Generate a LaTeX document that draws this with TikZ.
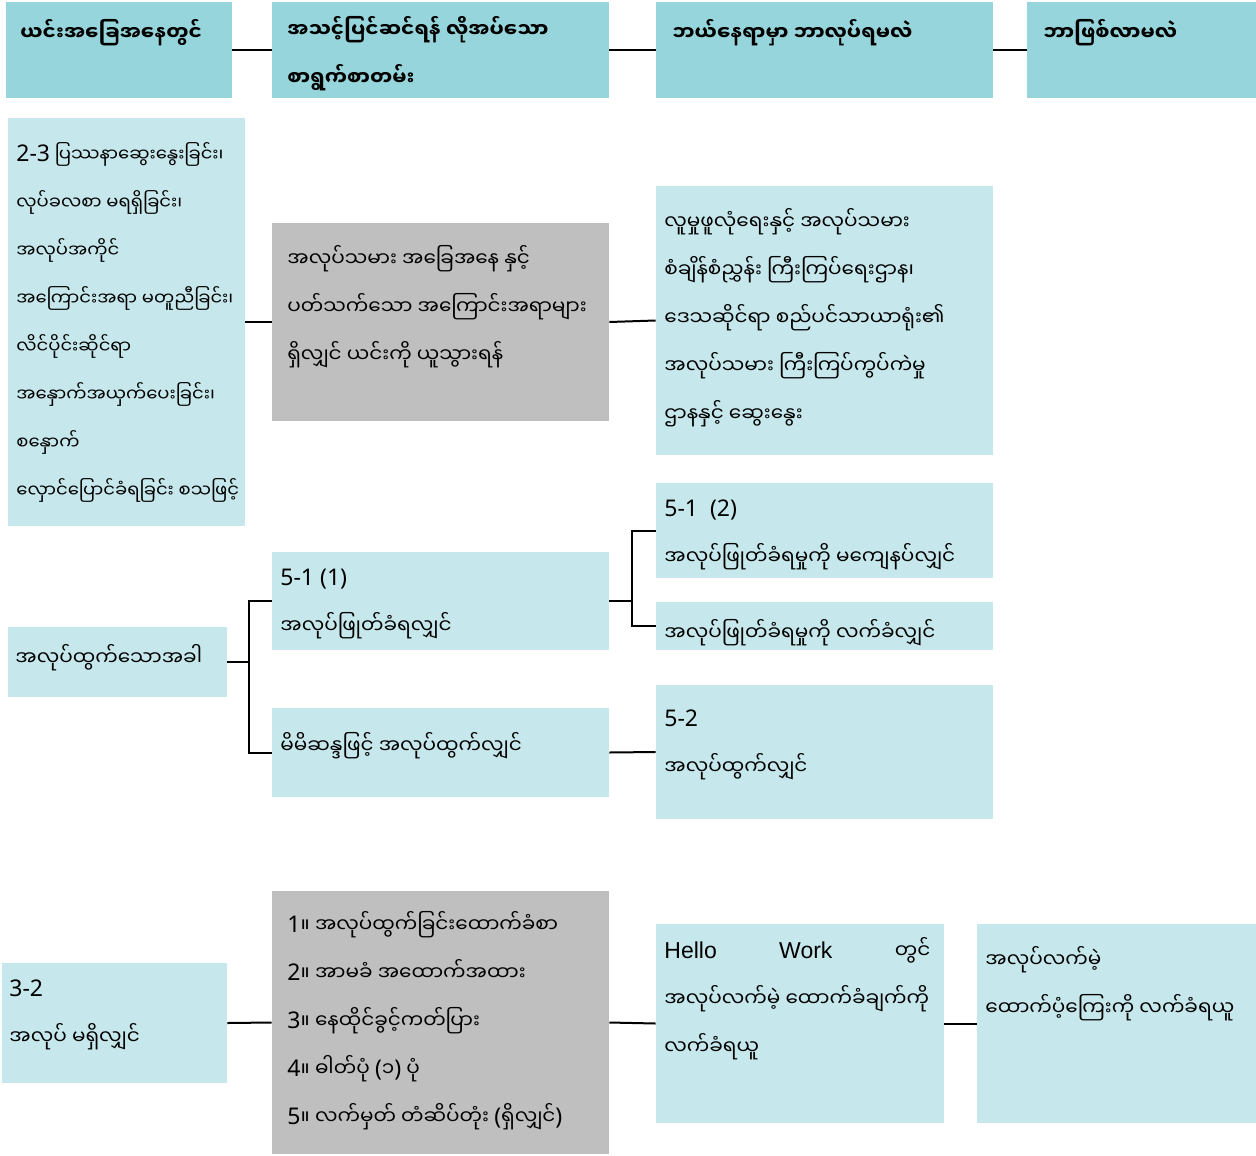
\documentclass[tikz,border=0pt]{standalone}
\usepackage{fontspec}
\setmainfont{Noto Sans}
\newfontfamily\mmfont[Script=Myanmar]{Noto Sans Myanmar UI}
\newfontfamily\latfont{Noto Sans}
\newfontfamily\arialfont{Liberation Sans}
\newcommand\lat[1]{{\latfont\fontsize{11.5}{24}\selectfont #1}}
\usetikzlibrary{fit}
\definecolor{hdrblue}{RGB}{150,213,219}
\definecolor{cellblue}{RGB}{198,232,236}
\definecolor{cellgrey}{RGB}{191,191,191}
\tikzset{
	box/.style={inner sep=0pt, draw=none},
	hdr/.style={box, fill=hdrblue},
	cell/.style={box, fill=cellblue},
	greycell/.style={box, fill=cellgrey},
	txt/.style={anchor=north west, align=left, inner sep=0pt, font=\mmfont\fontsize{10}{24}\selectfont,
		execute at begin node={\rule{0pt}{12pt}}},
	smalltxt/.style={txt, font=\mmfont\fontsize{9}{24}\selectfont},
	hdrtxt/.style={txt, font=\mmfont\bfseries\fontsize{10}{24}\selectfont},
	link/.style={draw, line width=1pt}
}
\begin{document}
\begin{tikzpicture}[x=0.5pt, y=-0.5pt]
		\useasboundingbox (0,0) rectangle (1256,1155);
		% header row
		\node[hdr, fit={(6,2) (232,98)}] (where) {};
		\node[hdr, fit={(272,2) (609,98)}] (docs) {};
		\node[hdr, fit={(656,2) (993,98)}] (place) {};
		\node[hdr, fit={(1027,2) (1256,98)}] (result) {};
		\node[hdrtxt] at (20,16) {ယင်းအခြေအနေတွင်};
		\node[hdrtxt] at (287,16) {အသင့်ပြင်ဆင်ရန် လိုအပ်သော\\စာရွက်စာတမ်း};
		\node[hdrtxt] at (672,16) {ဘယ်နေရာမှာ ဘာလုပ်ရမလဲ};
		\node[hdrtxt] at (1043,16) {ဘာဖြစ်လာမလဲ};
		\draw[link] (where.east) -- (docs.west);
		\draw[link] (docs.east) -- (place.west);
		\draw[link] (place.east) -- (result.west);
		% problems at work
		\node[cell, fit={(8,118) (245,526)}] (trouble) {};
		\node[greycell, fit={(272,223) (609,421)}] (bring) {};
		\node[cell, fit={(656,186) (993,455)}] (consult) {};
		\node[smalltxt] at (16,142) {\lat{2-3} ပြဿနာဆွေးနွေးခြင်း၊\\လုပ်ခလစာ မရရှိခြင်း၊\\အလုပ်အကိုင်\\အကြောင်းအရာ မတူညီခြင်း၊\\လိင်ပိုင်းဆိုင်ရာ\\အနှောက်အယှက်ပေးခြင်း၊\\စနှောက်\\လှောင်ပြောင်ခံရခြင်း စသဖြင့်};
		\node[txt] at (287,245) {အလုပ်သမား အခြေအနေ နှင့်\\ပတ်သက်သော အကြောင်းအရာများ\\ရှိလျှင် ယင်းကို ယူသွားရန်};
		\node[txt] at (664,208) {လူမှုဖူလုံရေးနှင့် အလုပ်သမား\\စံချိန်စံညွှန်း ကြီးကြပ်ရေးဌာန၊\\ဒေသဆိုင်ရာ စည်ပင်သာယာရုံး၏\\အလုပ်သမား ကြီးကြပ်ကွပ်ကဲမှု\\ဌာနနှင့် ဆွေးနွေး};
		\draw[link] (trouble.east) -- (bring.west);
		\draw[link] (bring.east) -- (consult.west);
		% leaving the job
		\node[cell, fit={(8,627) (227,697)}] (quit) {};
		\node[cell, fit={(272,552) (609,650)}] (fired) {};
		\node[cell, fit={(272,708) (609,797)}] (selfquit) {};
		\node[cell, fit={(656,483) (993,578)}] (unhappy) {};
		\node[cell, fit={(656,602) (993,650)}] (accept) {};
		\node[cell, fit={(656,685) (993,819)}] (resign) {};
		\node[txt] at (15,641) {အလုပ်ထွက်သောအခါ};
		\node[txt] at (280,569) {\lat{5-1 (1)}\\အလုပ်ဖြုတ်ခံရလျှင်};
		\node[txt] at (280,729) {မိမိဆန္ဒဖြင့် အလုပ်ထွက်လျှင်};
		\node[txt] at (664,499) {\lat{5-1\ \ (2)}\\အလုပ်ဖြုတ်ခံရမှုကို မကျေနပ်လျှင်};
		\node[txt] at (664,616) {အလုပ်ဖြုတ်ခံရမှုကို လက်ခံလျှင်};
		\node[txt] at (664,709) {\lat{5-2}\\အလုပ်ထွက်လျှင်};
		\draw[link] (quit.east) -- ++(22,0) |- (fired.west);
		\draw[link] (quit.east) -- ++(22,0) |- (selfquit.west);
		\draw[link] (fired.east) -- ++(23,0) |- (unhappy.west);
		\draw[link] (fired.east) -- ++(23,0) |- (accept.west);
		\draw[link] (selfquit.east) -- (resign.west);
		% no job
		\node[cell, fit={(2,963) (227,1083)}] (nojob) {};
		\node[greycell, fit={(272,891) (609,1154)}] (papers) {};
		\node[cell, fit={(656,924) (944,1123)}] (hellowork) {};
		\node[cell, fit={(977,924) (1256,1123)}] (benefit) {};
		\node[txt] at (9,979) {\lat{3-2}\\အလုပ် မရှိလျှင်};
		\node[txt] at (287,911) {\lat{1}။ အလုပ်ထွက်ခြင်းထောက်ခံစာ\\\lat{2}။ အာမခံ အထောက်အထား\\\lat{3}။ နေထိုင်ခွင့်ကတ်ပြား\\\lat{4}။ ဓါတ်ပုံ \lat{(}၁\lat{)} ပုံ\\\lat{5}။ လက်မှတ် တံဆိပ်တုံး \lat{(}ရှိလျှင်\lat{)}};
		\node[txt] at (664,937) {\hbox to 133pt{{\arialfont\fontsize{11.5}{24}\selectfont Hello}\hfill{\arialfont\fontsize{11.5}{24}\selectfont Work}\hfill တွင်}\\အလုပ်လက်မဲ့ ထောက်ခံချက်ကို\\လက်ခံရယူ};
		\node[txt] at (985,946) {အလုပ်လက်မဲ့\\ထောက်ပံ့ကြေးကို လက်ခံရယူ};
		\draw[link] (nojob.east) -- (papers.west);
		\draw[link] (papers.east) -- (hellowork.west);
		\draw[link] (hellowork.east) -- (benefit.west);
	\end{tikzpicture}
\end{document}
